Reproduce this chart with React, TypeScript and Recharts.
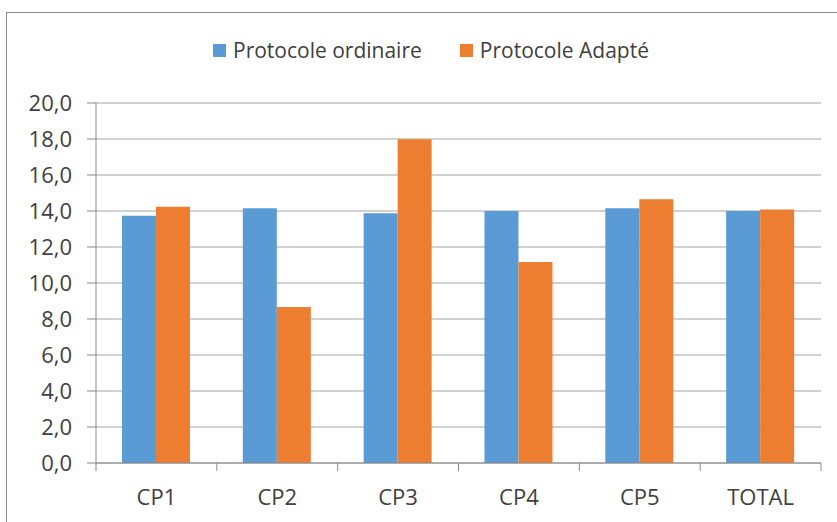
import { BarChart, Bar, XAxis, YAxis, CartesianGrid, Legend } from "recharts"

const categories = ["CP1", "CP2", "CP3", "CP4", "CP5", "TOTAL"]
const seriesNames = ["Protocole ordinaire", "Protocole Adapté"]
const ordinaire = [13.74, 14.15, 13.87, 14.0, 14.15, 14.0]
const adapte = [14.24, 8.67, 17.98, 11.17, 14.65, 14.09]
const yTicks = [0, 2, 4, 6, 8, 10, 12, 14, 16, 18, 20]

const data = categories.map((name, i) => ({
  name,
  ordinaire: ordinaire[i],
  adapte: adapte[i],
}))

const BLUE = "#5B9BD5"
const ORANGE = "#ED7D31"
const AXIS = "#898989"
const GRID = "#a3a3a3"
const TEXT = "#404040"
const FONT = "'Open Sans', sans-serif"

const CHART_W = 830
const CHART_H = 509
const MARGIN = { top: 90, right: 16, left: 0, bottom: 20 }
const Y_W = 89
const band = (CHART_W - MARGIN.left - MARGIN.right - Y_W) / categories.length

function XTick(props: any) {
  const { x, y, payload, index } = props
  const last = index === categories.length - 1
  return (
    <g>
      <line x1={x - band / 2} x2={x - band / 2} y1={y} y2={y + 8} stroke={AXIS} />
      {last && <line x1={x + band / 2} x2={x + band / 2} y1={y} y2={y + 8} stroke={AXIS} />}
      <text x={x} y={y + 42} textAnchor="middle" fontSize={22} fill={TEXT} fontFamily={FONT}>
        {payload.value}
      </text>
    </g>
  )
}

function LegendContent(props: any) {
  // keep the series order, not the alphabetical one
  const items = [...(props.payload || [])].sort(
    (a: any, b: any) => seriesNames.indexOf(a.value) - seriesNames.indexOf(b.value)
  )
  return (
    <div
      style={{
        display: "flex",
        alignItems: "center",
        height: 30,
        fontSize: 21,
        color: TEXT,
        fontFamily: FONT,
        whiteSpace: "nowrap",
      }}
    >
      {items.map((it: any, i: number) => (
        <div key={it.value} style={{ display: "flex", alignItems: "center", marginLeft: i === 0 ? 0 : 38 }}>
          <span style={{ display: "inline-block", width: 13, height: 13, background: it.color, marginRight: 7 }} />
          <span>{it.value}</span>
        </div>
      ))}
    </div>
  )
}

export default function App() {
  return (
    <div
      style={{
        position: "absolute",
        left: 6,
        top: 12,
        width: 831,
        height: 510,
        borderTop: "1px solid #8c8c8c",
        borderLeft: "1px solid #8c8c8c",
        background: "#fff",
        fontFamily: FONT,
      }}
    >
      <BarChart
        width={CHART_W}
        height={CHART_H}
        data={data}
        margin={MARGIN}
        barCategoryGap="21.5%"
        barGap={0}
      >
        <CartesianGrid vertical={false} stroke={GRID} />
        <XAxis
          dataKey="name"
          height={39}
          axisLine={{ stroke: AXIS }}
          tickLine={false}
          tickSize={0}
          tickMargin={0}
          tick={<XTick />}
          interval={0}
        />
        <YAxis
          width={Y_W}
          domain={[0, 20]}
          ticks={yTicks}
          interval={0}
          axisLine={{ stroke: AXIS }}
          tickLine={{ stroke: AXIS }}
          tickSize={9}
          tickMargin={15}
          tick={{ fontSize: 22, fill: TEXT, fontFamily: FONT }}
          tickFormatter={(v: number) => v.toFixed(1).replace(".", ",")}
        />
        <Legend
          verticalAlign="middle"
          layout="horizontal"
          content={<LegendContent />}
          wrapperStyle={{ top: 22, left: 206, width: "auto", height: 30 }}
        />
        <Bar dataKey="ordinaire" name={seriesNames[0]} fill={BLUE} isAnimationActive={false} />
        <Bar dataKey="adapte" name={seriesNames[1]} fill={ORANGE} isAnimationActive={false} />
      </BarChart>
    </div>
  )
}
